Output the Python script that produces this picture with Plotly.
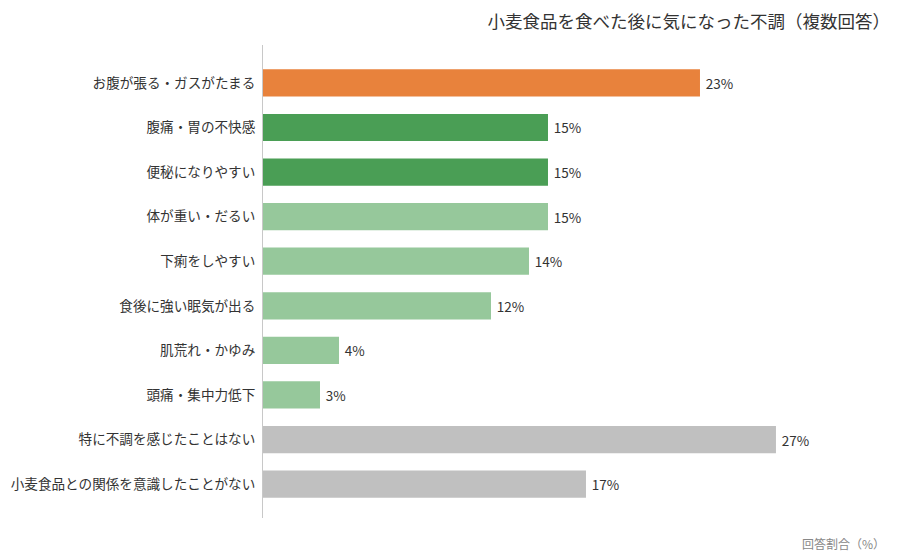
import plotly.graph_objects as go

# ---- data ----
categories = [
    "お腹が張る・ガスがたまる",
    "腹痛・胃の不快感",
    "便秘になりやすい",
    "体が重い・だるい",
    "下痢をしやすい",
    "食後に強い眠気が出る",
    "肌荒れ・かゆみ",
    "頭痛・集中力低下",
    "特に不調を感じたことはない",
    "小麦食品との関係を意識したことがない",
]
values = [23, 15, 15, 15, 14, 12, 4, 3, 27, 17]
groups = ["top", "main", "main", "sub", "sub", "sub", "sub", "sub", "none", "none"]

title_text = "小麦食品を食べた後に気になった不調（複数回答）"
axis_note = "回答割合（%）"

palette = {
    "top": "#E8823C",
    "main": "#4A9E55",
    "sub": "#96C89B",
    "none": "#C0C0C0",
}

FONT = "Noto Sans CJK JP"

fig = go.Figure()
fig.add_trace(go.Bar(
    x=values,
    y=categories,
    orientation="h",
    marker=dict(color=[palette[g] for g in groups], line=dict(width=0)),
    text=[f"\u2009{v}%" for v in values],
    textposition="outside",
    textfont=dict(size=13.5, color="#333333", family=FONT),
    cliponaxis=False,
    hoverinfo="x+y",
))

fig.update_layout(
    width=900,
    height=558,
    paper_bgcolor="white",
    plot_bgcolor="white",
    margin=dict(l=255, r=30, t=37, b=48, autoexpand=False),
    bargap=0.39,
    showlegend=False,
    font=dict(family=FONT, color="#333333"),
    title=dict(
        text=title_text,
        x=0.98, xanchor="right",
        y=0.975, yanchor="middle",
        font=dict(size=17.5, color="#333333", family=FONT),
    ),
    annotations=[dict(
        text=axis_note,
        xref="paper", yref="paper",
        x=1.0, y=-0.053, xshift=9,
        xanchor="right", yanchor="middle",
        showarrow=False,
        font=dict(size=12, color="#888888", family=FONT),
    )],
)

fig.update_xaxes(
    range=[0, 32.37],
    showgrid=False,
    zeroline=False,
    showticklabels=False,
    showline=False,
)

fig.update_yaxes(
    type="category",
    range=[len(categories) - 1 + 0.76, -0.85],
    showgrid=False,
    showline=True,
    linecolor="#C8C8C8",
    linewidth=1,
    ticks="",
    ticklabelstandoff=4,
    tickfont=dict(size=13.6, color="#333333", family=FONT),
)

fig.write_html("out.html")
